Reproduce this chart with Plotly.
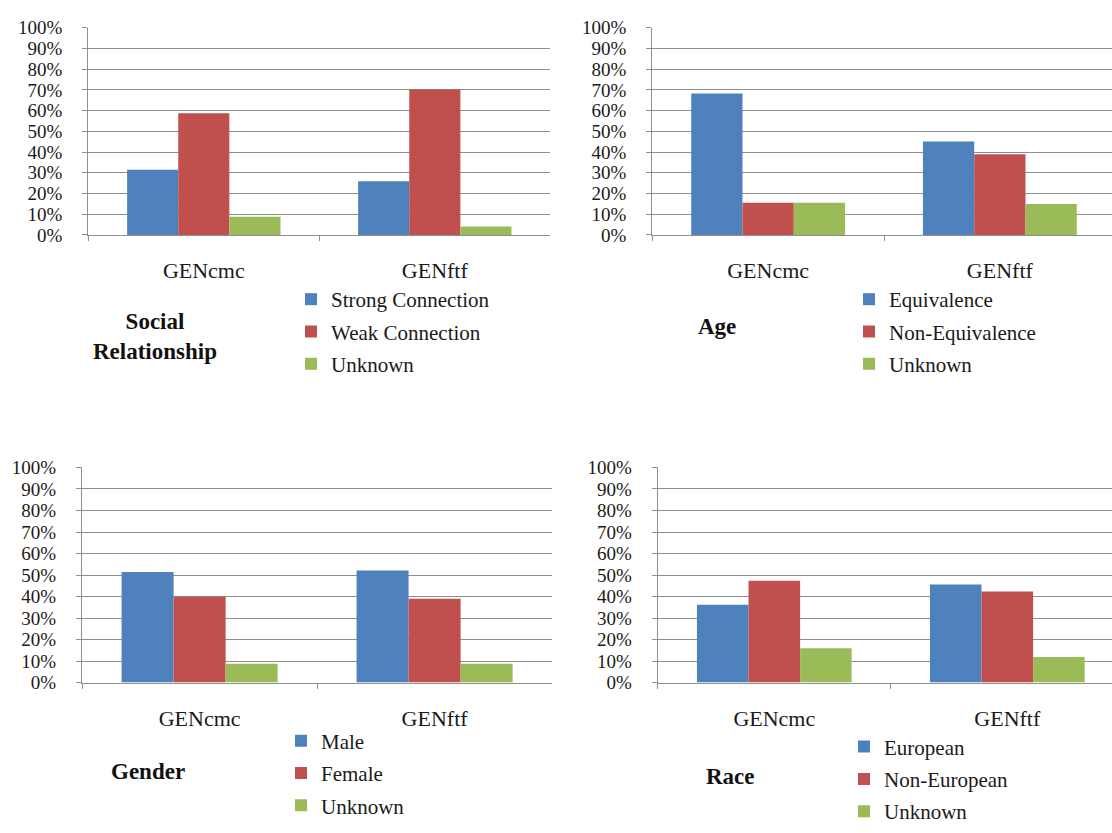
import plotly.graph_objects as go

# Categories shared by all four panels
categories = ["GENcmc", "GENftf"]

# Social relationship
social_labels = ["Strong Connection", "Weak Connection", "Unknown"]
social_strong = [0.314, 0.259]
social_weak = [0.587, 0.702]
social_unknown = [0.088, 0.041]

# Age
age_labels = ["Equivalence", "Non-Equivalence", "Unknown"]
age_equiv = [0.683, 0.451]
age_nonequiv = [0.155, 0.389]
age_unknown = [0.155, 0.149]

# Gender
gender_labels = ["Male", "Female", "Unknown"]
gender_male = [0.514, 0.521]
gender_female = [0.399, 0.390]
gender_unknown = [0.088, 0.088]

# Race
race_labels = ["European", "Non-European", "Unknown"]
race_european = [0.362, 0.456]
race_noneuropean = [0.474, 0.423]
race_unknown = [0.160, 0.119]

y_ticks = [i / 10 for i in range(11)]
y_tick_text = [f"{i * 10}%" for i in range(11)]

W, H = 1112, 833
COLORS = ["#4F81BD", "#C0504D", "#9BBB59"]
SERIF = "Liberation Serif"
GRID = "#8f8f8f"


def px_x(v):
    return v / W


def px_y(v):
    return 1 - v / H


panels = [
    # (series values, labels, axis suffix, legend name)
    ([social_strong, social_weak, social_unknown], social_labels, "", "legend"),
    ([age_equiv, age_nonequiv, age_unknown], age_labels, "2", "legend2"),
    ([gender_male, gender_female, gender_unknown], gender_labels, "3", "legend3"),
    ([race_european, race_noneuropean, race_unknown], race_labels, "4", "legend4"),
]

fig = go.Figure()
for p, (series, labels, sfx, leg) in enumerate(panels):
    for i, (vals, name) in enumerate(zip(series, labels)):
        fig.add_trace(go.Bar(
            x=categories, y=vals, name=name,
            marker=dict(color=COLORS[i], line=dict(width=0)),
            xaxis="x" + sfx, yaxis="y" + sfx,
            legend=leg, legendgroup=f"{leg}_{i}",
            hoverinfo="skip",
        ))

# Plot areas in pixels: (left, right, top(100%), bottom(0%), category width)
areas = {
    "": (88.3, 550.3, 18.3, 230.7, 231.0),
    "2": (652.3, 1112.0, 18.3, 230.7, 231.7),
    "3": (82.1, 552.0, 469.3, 690.0, 235.0),
    "4": (657.8, 1112.0, 469.3, 690.0, 233.0),
}

layout = dict(
    width=W, height=H,
    margin=dict(l=0, r=0, t=0, b=0),
    paper_bgcolor="white", plot_bgcolor="white",
    barmode="group", bargap=0.336, bargroupgap=0,
    font=dict(family=SERIF, color="#1a1a1a"),
)

for sfx, (left, right, top, bottom, cw) in areas.items():
    xr = [-0.5, -0.5 + (right - left) / cw]
    layout["xaxis" + sfx] = dict(
        domain=[px_x(left), px_x(right)], anchor="y" + sfx,
        range=xr, type="category",
        showline=True, linecolor=GRID, linewidth=1.4,
        ticks="outside", tickson="boundaries", ticklen=5, tickcolor=GRID, tickwidth=1.2,
        showgrid=False, zeroline=False,
        tickfont=dict(family=SERIF, size=22, color="#1a1a1a"),
        ticklabelstandoff=16,
        fixedrange=True,
    )
    layout["yaxis" + sfx] = dict(
        domain=[px_y(bottom), px_y(top)], anchor="x" + sfx,
        range=[0, 1], tickvals=y_ticks, ticktext=y_tick_text,
        showline=True, linecolor=GRID, linewidth=1.4,
        ticks="outside", ticklen=5, tickcolor=GRID, tickwidth=1.4,
        showgrid=True, gridcolor=GRID, gridwidth=1.4,
        zeroline=False,
        tickfont=dict(family=SERIF, size=19, color="#1a1a1a"),
        ticklabelstandoff=16,
        fixedrange=True,
    )

# Legend placement: (text start x, top y)
legend_pos = {
    "legend": (331, 276),
    "legend2": (889, 276),
    "legend3": (321, 729),
    "legend4": (884, 735),
}
for leg, (tx, ty) in legend_pos.items():
    layout[leg] = dict(
        x=px_x(tx - 40), y=px_y(ty), xanchor="left", yanchor="top",
        bgcolor="rgba(0,0,0,0)", borderwidth=0,
        font=dict(family=SERIF, size=21, color="#1a1a1a"),
        tracegroupgap=2, itemclick=False, itemdoubleclick=False,
    )

# Panel titles
titles = [
    ("Social<br>Relationship", 155, 335),
    ("Age", 717, 325),
    ("Gender", 148, 781),
    ("Race", 730, 786),
]
layout["annotations"] = [
    dict(text=f"<b>{t}</b>", x=px_x(x), y=px_y(y), xref="paper", yref="paper",
         xanchor="center", yanchor="middle", showarrow=False,
         font=dict(family=SERIF, size=23, color="#111111"))
    for t, x, y in titles
]

fig.update_layout(**layout)
fig.write_html("out.html")
